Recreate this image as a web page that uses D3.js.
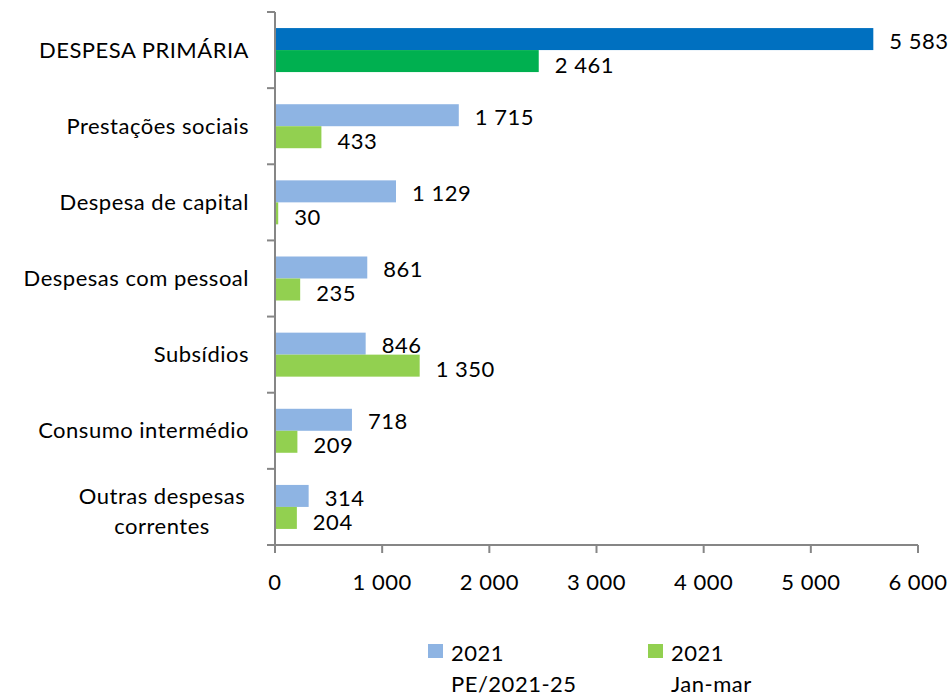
<!DOCTYPE html>
<html>
<head>
<meta charset="utf-8">
<script src="https://cdn.jsdelivr.net/npm/d3@7"></script>
<style>
body { margin: 0; background: #fff; }
text { font-family: Lato, "Open Sans", sans-serif; fill: #000; letter-spacing: 0.5px; }
</style>
</head>
<body>
<script>
// data
var categories = ["DESPESA PRIMÁRIA", "Prestações sociais", "Despesa de capital", "Despesas com pessoal", "Subsídios", "Consumo intermédio", "Outras despesas correntes"];
var series = ["2021 PE/2021-25", "2021 Jan-mar"];
var valuesPE = [5583, 1715, 1129, 861, 846, 718, 314];
var valuesJan = [2461, 433, 30, 235, 1350, 209, 204];
var xTicks = [0, 1000, 2000, 3000, 4000, 5000, 6000];
var legendLines = [["2021", "PE/2021-25"], ["2021", "Jan-mar"]];

var lightColors = ["#8EB4E3", "#92D050"];
var darkColors = ["#0070C0", "#00B050"];

var W = 950, H = 697;
var svg = d3.select("body").append("svg").attr("width", W).attr("height", H);

var x = d3.scaleLinear().domain([0, 6000]).range([275, 918]);
var y = d3.scaleBand().domain(categories).range([12, 545]).padding(0);
var barH = 22;
var po = (y.bandwidth() / barH - 2) / 2;
var ySub = d3.scaleBand().domain(series).range([0, y.bandwidth()]).paddingInner(0).paddingOuter(po);

var loc = d3.formatLocale({decimal: ",", thousands: " ", grouping: [3], currency: ["", "€"]});
var fmt = loc.format(",d");

var rows = categories.map(function(c, i){
    return {cat: c, idx: i, vals: [valuesPE[i], valuesJan[i]]};
});

var fs = 22;

// bars
var g = svg.selectAll(".row").data(rows).enter().append("g")
    .attr("class", "row")
    .attr("transform", function(d){ return "translate(0," + y(d.cat) + ")"; });

g.selectAll("rect").data(function(d){
    return d.vals.map(function(v, k){ return {v: v, k: k, first: d.idx === 0}; });
}).enter().append("rect")
    .attr("x", x(0))
    .attr("y", function(d){ return ySub(series[d.k]); })
    .attr("width", function(d){ return x(d.v) - x(0); })
    .attr("height", ySub.bandwidth())
    .attr("fill", function(d){ return d.first ? darkColors[d.k] : lightColors[d.k]; });

g.selectAll(".val").data(function(d){
    return d.vals.map(function(v, k){ return {v: v, k: k}; });
}).enter().append("text")
    .attr("class", "val")
    .attr("x", function(d){ return x(d.v) + 16; })
    .attr("y", function(d){ return ySub(series[d.k]) + ySub.bandwidth() / 2 + (d.k === 0 ? 2 : 4); })
    .attr("dy", "0.35em")
    .style("font-size", fs + "px")
    .text(function(d){ return fmt(d.v); });

// category labels
svg.selectAll(".cat").data(rows).enter().append("text")
    .attr("class", "cat")
    .attr("text-anchor", function(d){ return d.cat.length > 22 ? "middle" : "end"; })
    .attr("transform", function(d){
        var cx = d.cat.length > 22 ? 162 : 249;
        return "translate(" + cx + "," + (y(d.cat) + y.bandwidth() / 2) + ")";
    })
    .style("font-size", fs + "px")
    .each(function(d){
        var t = d3.select(this);
        if (d.cat.length > 22) {
            t.append("tspan").attr("x", 0).attr("y", -11).attr("dy", "0.35em").text("Outras despesas");
            t.append("tspan").attr("x", 0).attr("y", 19).attr("dy", "0.35em").text("correntes");
        } else {
            t.append("tspan").attr("x", 0).attr("y", 0).attr("dy", "0.35em").text(d.cat);
        }
    });

// axes
var axisColor = "#868686";
svg.append("line").attr("x1", x(0)).attr("x2", x(0)).attr("y1", 12).attr("y2", 545)
    .attr("stroke", axisColor).attr("stroke-width", 2);
var yTicks = categories.map(function(c){ return y(c); }).concat([545]);
svg.selectAll(".ytick").data(yTicks).enter().append("line")
    .attr("x1", x(0) - 8).attr("x2", x(0)).attr("y1", function(d){ return d; }).attr("y2", function(d){ return d; })
    .attr("stroke", axisColor).attr("stroke-width", 2);

svg.append("line").attr("x1", x(0)).attr("x2", x(6000)).attr("y1", 545).attr("y2", 545)
    .attr("stroke", axisColor).attr("stroke-width", 2);
svg.selectAll(".xtick").data(xTicks).enter().append("line")
    .attr("x1", function(d){ return x(d); }).attr("x2", function(d){ return x(d); })
    .attr("y1", 545).attr("y2", 553)
    .attr("stroke", axisColor).attr("stroke-width", 2);
svg.selectAll(".xlab").data(xTicks).enter().append("text")
    .attr("x", function(d){ return x(d); }).attr("y", 582).attr("dy", "0.35em")
    .attr("text-anchor", "middle").style("font-size", fs + "px")
    .text(function(d){ return fmt(d); });

// legend
var legX = [428, 648];
var leg = svg.selectAll(".leg").data(legendLines).enter().append("g")
    .attr("transform", function(d, i){ return "translate(" + legX[i] + ",0)"; });
leg.append("rect").attr("x", 0).attr("y", 644).attr("width", 15).attr("height", 14)
    .attr("fill", function(d, i){ return lightColors[i]; });
leg.append("text").attr("x", 23).attr("y", 653).attr("dy", "0.35em").style("font-size", fs + "px")
    .text(function(d){ return d[0]; });
leg.append("text").attr("x", 23).attr("y", 684).attr("dy", "0.35em").style("font-size", fs + "px")
    .text(function(d){ return d[1]; });
</script>
</body>
</html>
